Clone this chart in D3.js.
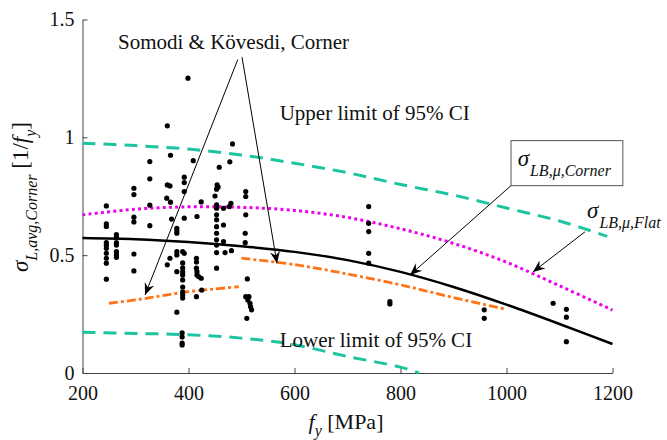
<!DOCTYPE html>
<html><head><meta charset="utf-8">
<script src="https://cdn.jsdelivr.net/npm/d3@7"></script>
<style>
body{margin:0;background:#fff;}
svg{display:block;}
svg text{font-family:"Liberation Serif","Times New Roman",serif;}
</style></head>
<body><svg id="c" width="667" height="440"></svg>
<script>
// ---- data ----
const xTicks = [200, 400, 600, 800, 1000, 1200];
const yTicks = [0, 0.5, 1, 1.5];

const testFy = [
 245,245,245,245,245,245,245,245,245,245,
 264,264,264,264,264,264,264,
 297,297,297,297,297,297,
 327,327,327,327,
 360,366,360,365,359,366,368,365,360,
 378,378,378,378,378,378,378,
 392,392,392,392,389,392,389,389,389,389,389,389,389,389,389,388,388,388,388,
 399,409,
 416,415,415,415,416,416,419,424,415,425,424,
 458,454,456,453,450,453,453,453,453,453,453,453,453,453,453,
 466,477,480,466,466,469,481,483,478,
 508,508,508,507,507,511,508,514,512,516,517,519,510,
 740,740,740,740,740,
 780,780,
 958,958,
 1088,1113,1113,1113
];
const testSigma = [
 0.709,0.633,0.622,0.553,0.542,0.529,0.508,0.487,0.466,0.398,
 0.587,0.576,0.553,0.543,0.515,0.501,0.491,
 0.784,0.757,0.661,0.641,0.505,0.433,
 0.897,0.824,0.712,0.625,
 1.049,0.924,0.798,0.794,0.742,0.725,0.653,0.487,0.459,
 0.614,0.603,0.593,0.515,0.501,0.430,0.258,
 0.831,0.808,0.770,0.657,0.515,0.508,0.467,0.446,0.429,0.416,0.395,0.365,0.344,0.331,0.318,0.170,0.153,0.127,0.119,
 1.251,0.901,
 0.664,0.487,0.471,0.445,0.430,0.416,0.409,0.402,0.324,0.352,0.726,
 0.873,0.798,0.789,0.780,0.751,0.713,0.699,0.671,0.650,0.621,0.593,0.565,0.543,0.511,0.445,
 0.699,0.706,0.720,0.628,0.558,0.511,0.519,0.972,0.896,
 0.770,0.749,0.671,0.593,0.553,0.399,0.324,0.324,0.310,0.296,0.282,0.268,0.232,
 0.706,0.635,0.600,0.508,0.466,
 0.303,0.293,
 0.268,0.232,
 0.296,0.270,0.237,0.133
];

const curveFy = [200,300,400,500,600,700,800,900,1000,1100,1200];
const lbCorner = [0.573,0.568,0.556,0.538,0.514,0.479,0.429,0.365,0.290,0.208,0.123];
const lbFlat   = [0.671,0.695,0.705,0.703,0.690,0.660,0.612,0.550,0.470,0.370,0.267];

const upperFy = [200,300,400,500,600,700,800,900,1000,1100,1190];
const upperCI = [0.975,0.965,0.950,0.925,0.890,0.850,0.800,0.755,0.700,0.645,0.580];
const lowerFy = [200,300,400,500,600,700,800,835];
const lowerCI = [0.173,0.168,0.162,0.148,0.120,0.070,0.025,0.0];

const somodi1Fy = [250,300,350,400,450,495];
const somodi1   = [0.296,0.310,0.328,0.345,0.357,0.366];
const somodi2Fy = [500,600,700,800,900,1000];
const somodi2   = [0.487,0.460,0.420,0.374,0.320,0.270];

// ---- layout ----
const svg = d3.select("#c");
const x = d3.scaleLinear().domain([200,1200]).range([82.5,612.5]);
const y = d3.scaleLinear().domain([0,1.5]).range([373,19.5]);

svg.append("defs").append("marker")
  .attr("id","ah").attr("viewBox","-12 -6 14 12")
  .attr("refX",0).attr("refY",0)
  .attr("markerWidth",14).attr("markerHeight",12)
  .attr("markerUnits","userSpaceOnUse").attr("orient","auto")
  .append("path").attr("d","M0,0 L-12,-5 L-8,0 L-12,5 Z").attr("fill","#000");

const gx = svg.append("g").attr("transform","translate(0,373)")
  .call(d3.axisBottom(x).tickValues(xTicks).tickSizeInner(-5).tickSizeOuter(0).tickPadding(13).tickFormat(d=>String(d)));
const gy = svg.append("g").attr("transform","translate(82.5,0)")
  .call(d3.axisLeft(y).tickValues(yTicks).tickSizeInner(-5).tickSizeOuter(0).tickPadding(8).tickFormat(d=>String(d)));
[gx,gy].forEach(g=>{
  g.attr("font-family",null).attr("font-size",null);
  g.selectAll("path.domain").attr("stroke","#444").attr("stroke-width",1);
  g.selectAll(".tick line").attr("stroke","#444");
  g.selectAll("text").style("font-size","20px").style("font-family","'Liberation Serif', serif").attr("fill","#111");
});

const line = d3.line().x(d=>x(d[0])).y(d=>y(d[1])).curve(d3.curveCatmullRom.alpha(0.5));
const zip = (a,b)=>a.map((v,i)=>[v,b[i]]);

svg.append("path").attr("d",line(zip(upperFy,upperCI))).attr("fill","none")
  .attr("stroke","#1cc4a0").attr("stroke-width",3).attr("stroke-dasharray","13,8");
svg.append("path").attr("d",line(zip(lowerFy,lowerCI))).attr("fill","none")
  .attr("stroke","#1cc4a0").attr("stroke-width",3).attr("stroke-dasharray","13,8");
svg.append("path").attr("d",line(zip(curveFy,lbFlat))).attr("fill","none")
  .attr("stroke","#ee00ee").attr("stroke-width",3).attr("stroke-dasharray","3,3.2");
svg.append("path").attr("d",line(zip(curveFy,lbCorner))).attr("fill","none")
  .attr("stroke","#000").attr("stroke-width",2.5);
[[somodi1Fy,somodi1],[somodi2Fy,somodi2]].forEach(([a,b])=>{
  svg.append("path").attr("d",line(zip(a,b))).attr("fill","none")
    .attr("stroke","#ff7417").attr("stroke-width",2.8).attr("stroke-dasharray","9,3,3,3");
});

svg.append("g").selectAll("circle").data(zip(testFy,testSigma)).join("circle")
  .attr("cx",d=>x(d[0])).attr("cy",d=>y(d[1])).attr("r",2.6).attr("fill","#000");

const arrows = [
  [[493,1.330],[318,0.331]],
  [[501,1.340],[567,0.465]],
  [[1008.5,0.795],[818,0.416]],
  [[1148,0.599],[1050,0.429]]
];
arrows.forEach(a=>{
  svg.append("line").attr("x1",x(a[0][0])).attr("y1",y(a[0][1]))
    .attr("x2",x(a[1][0])).attr("y2",y(a[1][1]))
    .attr("stroke","#000").attr("stroke-width",1).attr("marker-end","url(#ah)");
});

function txt(px,py,str,size){
  return svg.append("text").attr("x",px).attr("y",py).style("font-size",size+"px").attr("fill","#111").text(str);
}
txt(x(267),y(1.373),"Somodi & Kövesdi, Corner",21);
txt(x(572),y(1.074),"Upper limit of 95% CI",21);
txt(x(572),y(0.110),"Lower limit of 95% CI",21);

svg.append("rect").attr("x",x(1008.5)).attr("y",y(0.986))
  .attr("width",x(1219.5)-x(1008.5)).attr("height",y(0.795)-y(0.986))
  .attr("fill","#fff").attr("stroke","#555").attr("stroke-width",1);
function sigmaLabel(px,py,sub){
  const t = svg.append("text").attr("x",px).attr("y",py).attr("fill","#111");
  t.append("tspan").style("font-size","23px").attr("font-style","italic").text("σ");
  t.append("tspan").style("font-size","16px").attr("font-style","italic").attr("dy",10).attr("dx",1).text(sub);
}
sigmaLabel(x(1021),y(0.877),"LB,μ,Corner");
sigmaLabel(x(1152),y(0.658),"LB,μ,Flat");

const xl = svg.append("text").attr("x",346).attr("y",429).attr("text-anchor","middle").attr("fill","#111").style("font-size","22px");
xl.append("tspan").attr("font-style","italic").text("f");
xl.append("tspan").attr("font-style","italic").style("font-size","16px").attr("dy",7).text("y");
xl.append("tspan").attr("dy",-7).text(" [MPa]");

const yl = svg.append("text").attr("transform","translate(28,197) rotate(-90)").attr("text-anchor","middle").attr("fill","#111").style("font-size","23px");
yl.append("tspan").attr("font-style","italic").text("σ");
yl.append("tspan").attr("font-style","italic").style("font-size","16px").attr("dy",9).text("L,avg,Corner");
yl.append("tspan").attr("dy",-9).text(" [1/");
yl.append("tspan").attr("font-style","italic").text("f");
yl.append("tspan").attr("font-style","italic").style("font-size","16px").attr("dy",8).text("y");
yl.append("tspan").attr("dy",-8).text("]");
</script></body></html>
